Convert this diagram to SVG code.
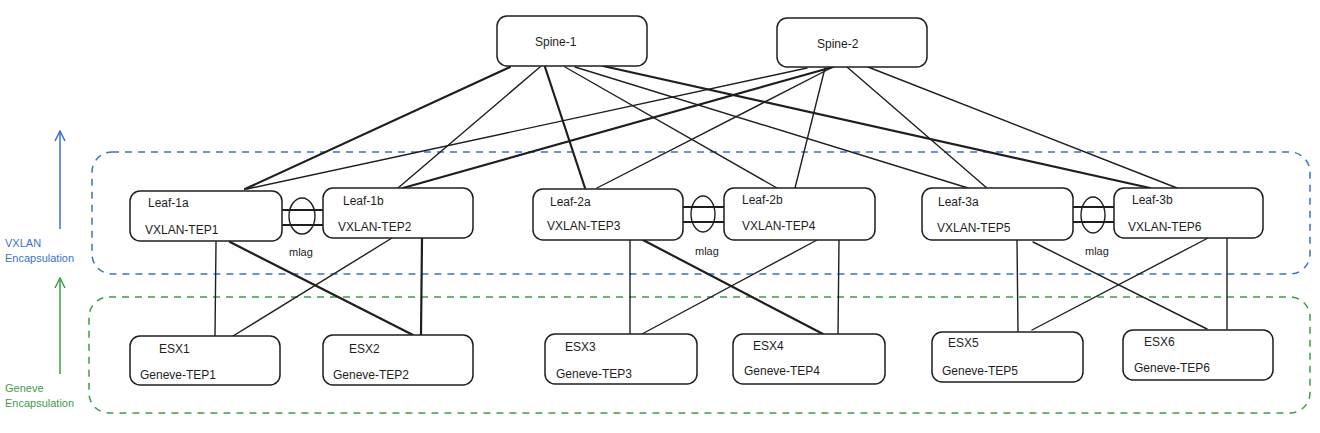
<svg xmlns="http://www.w3.org/2000/svg" width="1320" height="433" viewBox="0 0 1320 433">
<defs>
<style>
.box{fill:#fff;stroke:#1e1e1e;stroke-width:1.5}
.t{font-family:"Liberation Sans",Arial,sans-serif;font-size:12px;fill:#1e1e1e}
.s{font-size:11px}
.ln{stroke:#1e1e1e;stroke-width:1.4;fill:none;stroke-linecap:round}
.th{stroke-width:2.2}
.blue{fill:none;stroke:#3a72c8;stroke-width:1.5;stroke-dasharray:7 6}
.green{fill:none;stroke:#3f9c48;stroke-width:1.5;stroke-dasharray:7 6}
.bt{font-family:"Liberation Sans",Arial,sans-serif;font-size:11px;fill:#3a72c8}
.gt{font-family:"Liberation Sans",Arial,sans-serif;font-size:11px;fill:#3f9c48}
</style>
<marker id="ab" viewBox="0 0 12 12" refX="11" refY="6" markerWidth="12" markerHeight="12" markerUnits="userSpaceOnUse" orient="auto">
<path d="M1 1 L11 6 L1 11" fill="none" stroke="#3a72c8" stroke-width="1.5"/>
</marker>
<marker id="ag" viewBox="0 0 12 12" refX="11" refY="6" markerWidth="12" markerHeight="12" markerUnits="userSpaceOnUse" orient="auto">
<path d="M1 1 L11 6 L1 11" fill="none" stroke="#3f9c48" stroke-width="1.5"/>
</marker>
</defs>
<rect width="1320" height="433" fill="#fff"/>

<g id="zones">
<rect class="blue" x="92" y="152" width="1218" height="122" rx="20"/>
<rect class="green" x="89" y="297" width="1221" height="116" rx="20"/>
<line x1="60" y1="229" x2="60" y2="131" stroke="#3a72c8" stroke-width="1.5" marker-end="url(#ab)"/>
<line x1="60" y1="374" x2="60" y2="278" stroke="#3f9c48" stroke-width="1.5" marker-end="url(#ag)"/>
<text class="bt" x="5" y="247">VXLAN</text>
<text class="bt" x="5" y="262">Encapsulation</text>
<text class="gt" x="5" y="392">Geneve</text>
<text class="gt" x="5" y="407">Encapsulation</text>
</g>

<g id="connectors">
<!-- Spine-1 -->
<line class="ln th" x1="510" y1="67" x2="245" y2="189"/>
<line class="ln" x1="540" y1="67" x2="398" y2="188"/>
<line class="ln th" x1="545" y1="67" x2="585" y2="188"/>
<line class="ln" x1="565" y1="67" x2="777" y2="188"/>
<line class="ln" x1="575" y1="67" x2="968" y2="188"/>
<line class="ln th" x1="603" y1="66" x2="1150" y2="188"/>
<!-- Spine-2 -->
<line class="ln" x1="807" y1="68" x2="247" y2="189"/>
<line class="ln th" x1="833" y1="67" x2="403" y2="188"/>
<line class="ln" x1="833" y1="67" x2="597" y2="188"/>
<line class="ln" x1="825" y1="68" x2="795" y2="188"/>
<line class="ln" x1="847" y1="67" x2="988" y2="189"/>
<line class="ln" x1="868" y1="67" x2="1177" y2="188"/>
<!-- mlag -->
<line class="ln th" x1="283" y1="210" x2="323" y2="210"/>
<line class="ln th" x1="283" y1="225" x2="323" y2="225"/>
<ellipse cx="302" cy="216" rx="13" ry="18" fill="none" stroke="#1e1e1e" stroke-width="1.4"/>
<line class="ln th" x1="681" y1="207" x2="725" y2="207"/>
<line class="ln th" x1="681" y1="222" x2="725" y2="222"/>
<ellipse cx="703" cy="214" rx="12" ry="18" fill="none" stroke="#1e1e1e" stroke-width="1.4"/>
<line class="ln th" x1="1071" y1="207" x2="1115" y2="207"/>
<line class="ln th" x1="1071" y1="222" x2="1115" y2="222"/>
<ellipse cx="1093" cy="215" rx="12" ry="18" fill="none" stroke="#1e1e1e" stroke-width="1.4"/>
<!-- Leaf to ESX -->
<line class="ln" x1="216" y1="242" x2="215" y2="336"/>
<line class="ln th" x1="230" y1="242" x2="413" y2="335"/>
<line class="ln" x1="392" y1="238" x2="233" y2="336"/>
<line class="ln th" x1="422" y1="238" x2="421" y2="335"/>
<line class="ln" x1="630" y1="240" x2="630" y2="335"/>
<line class="ln th" x1="643" y1="240" x2="823" y2="334"/>
<line class="ln" x1="817" y1="240" x2="642" y2="334"/>
<line class="ln" x1="839" y1="240" x2="838" y2="334"/>
<line class="ln" x1="1017" y1="240" x2="1018" y2="332"/>
<line class="ln" x1="1033" y1="242" x2="1207" y2="329"/>
<line class="ln" x1="1208" y1="238" x2="1032" y2="330"/>
<line class="ln" x1="1227" y1="238" x2="1227" y2="329"/>
</g>

<g id="spine-1"><rect class="box" x="497" y="16" width="150" height="50" rx="10"/><text class="t" x="535" y="46">Spine-1</text></g>
<g id="spine-2"><rect class="box" x="777" y="18" width="150" height="49" rx="10"/><text class="t" x="817" y="48">Spine-2</text></g>

<g id="leaf-1a"><rect class="box" x="130" y="191" width="152" height="50" rx="10"/><text class="t" x="148" y="207">Leaf-1a</text><text class="t" x="145" y="234">VXLAN-TEP1</text></g>
<g id="leaf-1b"><rect class="box" x="323" y="188" width="150" height="50" rx="10"/><text class="t" x="343" y="205">Leaf-1b</text><text class="t" x="338" y="231">VXLAN-TEP2</text></g>
<g id="leaf-2a"><rect class="box" x="533" y="189" width="150" height="51" rx="10"/><text class="t" x="550" y="206">Leaf-2a</text><text class="t" x="547" y="230">VXLAN-TEP3</text></g>
<g id="leaf-2b"><rect class="box" x="724" y="188" width="151" height="52" rx="10"/><text class="t" x="742" y="204">Leaf-2b</text><text class="t" x="742" y="230">VXLAN-TEP4</text></g>
<g id="leaf-3a"><rect class="box" x="922" y="188" width="151" height="52" rx="10"/><text class="t" x="938" y="206">Leaf-3a</text><text class="t" x="937" y="232">VXLAN-TEP5</text></g>
<g id="leaf-3b"><rect class="box" x="1114" y="188" width="149" height="50" rx="10"/><text class="t" x="1132" y="204">Leaf-3b</text><text class="t" x="1128" y="231">VXLAN-TEP6</text></g>

<text class="t s" x="289" y="256">mlag</text>
<text class="t s" x="695" y="255">mlag</text>
<text class="t s" x="1085" y="255">mlag</text>

<g id="esx1"><rect class="box" x="130" y="336" width="150" height="49" rx="10"/><text class="t" x="159" y="353">ESX1</text><text class="t" x="140" y="379">Geneve-TEP1</text></g>
<g id="esx2"><rect class="box" x="323" y="335" width="150" height="50" rx="10"/><text class="t" x="349" y="353">ESX2</text><text class="t" x="333" y="379">Geneve-TEP2</text></g>
<g id="esx3"><rect class="box" x="545" y="334" width="152" height="50" rx="10"/><text class="t" x="565" y="351">ESX3</text><text class="t" x="556" y="378">Geneve-TEP3</text></g>
<g id="esx4"><rect class="box" x="733" y="334" width="152" height="50" rx="10"/><text class="t" x="753" y="350">ESX4</text><text class="t" x="744" y="375">Geneve-TEP4</text></g>
<g id="esx5"><rect class="box" x="932" y="332" width="151" height="50" rx="10"/><text class="t" x="948" y="347">ESX5</text><text class="t" x="942" y="375">Geneve-TEP5</text></g>
<g id="esx6"><rect class="box" x="1123" y="330" width="150" height="50" rx="10"/><text class="t" x="1144" y="346">ESX6</text><text class="t" x="1134" y="372">Geneve-TEP6</text></g>
</svg>
